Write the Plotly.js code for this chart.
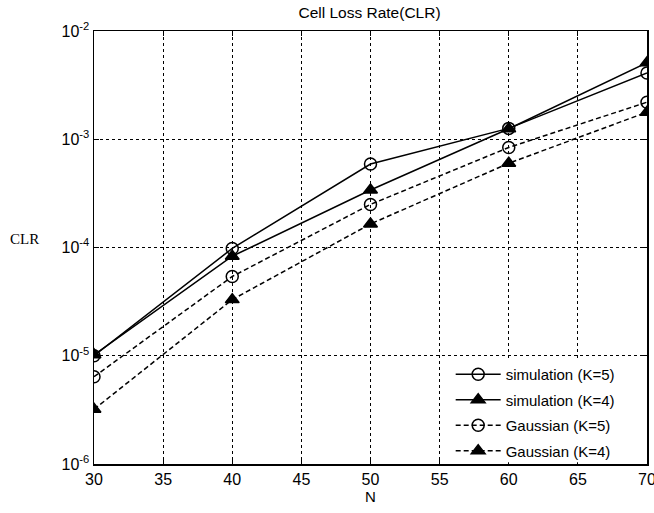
<!DOCTYPE html>
<html><head><meta charset="utf-8">
<script src="https://cdn.plot.ly/plotly-3.0.1.min.js"></script>
<style>body{margin:0;background:#fff}#g{width:654px;height:513px}</style>
</head><body><div id="g"></div>
<script>
const N = [30, 40, 50, 60, 70];
const simK5 = [1.0e-5, 9.8e-5, 5.9e-4, 1.26e-3, 4.1e-3];
const simK4 = [1.02e-5, 8.3e-5, 3.4e-4, 1.25e-3, 5.1e-3];
const gauK5 = [6.4e-6, 5.4e-5, 2.5e-4, 8.4e-4, 2.2e-3];
const gauK4 = [3.2e-6, 3.3e-5, 1.65e-4, 6.0e-4, 1.78e-3];
const xTicks = [30, 35, 40, 45, 50, 55, 60, 65, 70];
const yTicks = [1e-6, 1e-5, 1e-4, 1e-3, 1e-2];
const yTickText = ['10<sup>-6</sup>', '10<sup>-5</sup>', '10<sup>-4</sup>', '10<sup>-3</sup>', '10<sup>-2</sup>'];

const FONT = 'Arial, Liberation Sans, sans-serif';
function tr(y, name, sym, dash, grp) {
  return {x: N, y: y, name: name, type: 'scatter', mode: 'lines+markers', legendgroup: grp,
    line: {color: 'black', width: 1.5, dash: dash},
    marker: {symbol: sym, size: 12, color: 'black', line: {color: 'black', width: 1.5}}};
}
const data = [
  tr(simK5, 'simulation (K=5)', 'circle-open', 'solid', 'a'),
  tr(simK4, 'simulation (K=4)', 'triangle-up', 'solid', 'b'),
  tr(gauK5, 'Gaussian (K=5)', 'circle-open', '5px,3px', 'c'),
  tr(gauK4, 'Gaussian (K=4)', 'triangle-up', '5px,3px', 'd')
];
const axisCommon = {showline: true, linecolor: 'black', linewidth: 1.5, mirror: 'ticks',
  ticks: 'inside', ticklen: 5, tickcolor: 'black', showgrid: true, gridcolor: 'black',
  griddash: 'dot', gridwidth: 1, zeroline: false, ticklabeloverflow: 'allow',
  tickfont: {family: FONT, size: 16, color: 'black'}};
const layout = {
  width: 654, height: 513,
  margin: {l: 94, r: 7, t: 31, b: 49},
  paper_bgcolor: 'white', plot_bgcolor: 'white',
  title: {text: 'Cell Loss Rate(CLR)', font: {family: FONT, size: 15.5, color: 'black'},
    x: 0.565, xanchor: 'center', y: 0.975, yanchor: 'middle'},
  xaxis: Object.assign({}, axisCommon, {range: [30, 70], tickvals: xTicks,
    title: {text: 'N', font: {family: FONT, size: 15, color: 'black'}, standoff: 3}}),
  yaxis: Object.assign({}, axisCommon, {type: 'log', range: [-6, -2], tickvals: yTicks, ticktext: yTickText}),
  showlegend: true,
  legend: {x: 0.645, y: 0.245, xanchor: 'left', yanchor: 'top', bgcolor: 'rgba(0,0,0,0)',
    borderwidth: 0, itemwidth: 45, traceorder: 'grouped', tracegroupgap: 3,
    font: {family: FONT, size: 15, color: 'black'}},
  shapes: [{type: 'rect', xref: 'x domain', yref: 'y domain', x0: 0.631, x1: 0.996, y0: 0.004, y1: 0.244,
    fillcolor: 'white', line: {width: 0}, layer: 'above'}],
  annotations: [{text: 'CLR', xref: 'paper', yref: 'paper', x: -0.126, y: 0.52, showarrow: false,
    xanchor: 'center', yanchor: 'middle',
    font: {family: 'Times New Roman, Liberation Serif, serif', size: 15, color: 'black'}}]
};
Plotly.newPlot('g', data, layout, {displayModeBar: false, staticPlot: true});
</script></body></html>
